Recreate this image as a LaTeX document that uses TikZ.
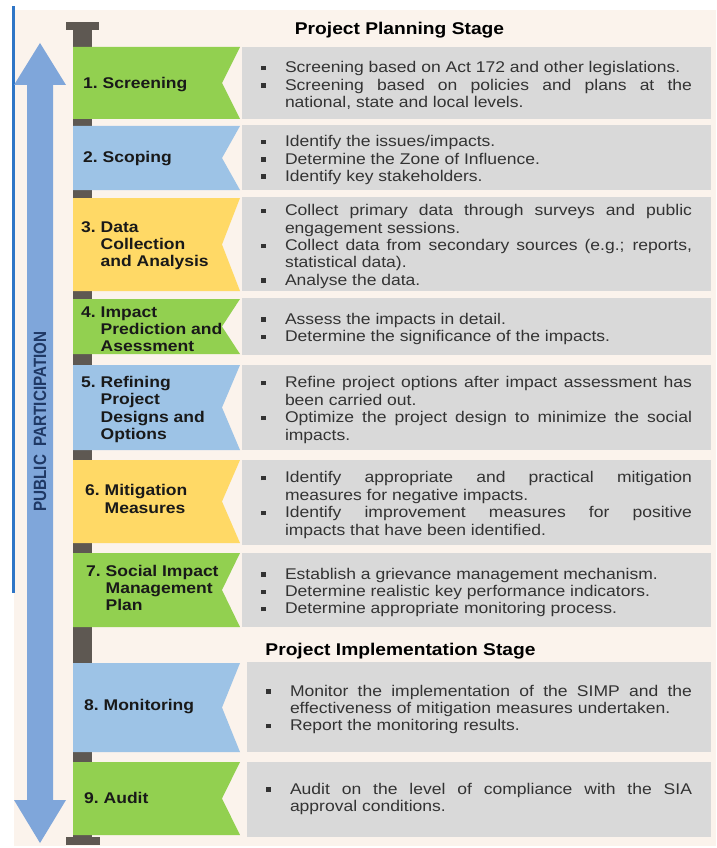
\documentclass[tikz,border=0pt]{standalone}
\usepackage{fontspec}
\usepackage{graphicx}
\setmainfont[FakeStretch=1.13]{Liberation Sans}
\newfontfamily\plainfont{Liberation Sans}
\usepackage{tikz}

\definecolor{cream}{HTML}{FBF3EC}
\definecolor{boxgray}{HTML}{D9D9D9}
\definecolor{stagegreen}{HTML}{92D050}
\definecolor{stageblue}{HTML}{9DC3E6}
\definecolor{stageyellow}{HTML}{FFD966}
\definecolor{spine}{HTML}{5E5852}
\definecolor{arrowblue}{HTML}{7FA6DA}
\definecolor{edgeblue}{HTML}{2E75C6}
\definecolor{navy}{HTML}{1F3864}

\tolerance=9999
\hyphenpenalty=10000
\hbadness=10000

% justified block of bullet items
\newcommand{\items}[2]{\begin{minipage}{#1}\fontsize{15.5}{17.4}\selectfont
  \rightskip=0pt\leftskip=0pt\parfillskip=0pt plus 1fil\everypar{}\relax #2\end{minipage}}
% bullet item with hanging indent
\newcommand{\itm}{\par\noindent\hangindent=24pt\hangafter=1\makebox[24pt][l]{\rule[2.5pt]{4.5pt}{4.5pt}}}
% stage label: number, then lines
\newcommand{\stp}[2]{\begin{tabular}{@{}l@{\ }l@{}}#1 & #2\end{tabular}}
% flag shape with a notch on the right
\newcommand{\banner}[3]{\fill[#3] (73,#1) -- (240,#1) -- (222,{(#1+#2)/2}) -- (240,#2) -- (73,#2) -- cycle;}

\begin{document}
\begin{tikzpicture}[x=1pt,y=-1pt,
  infobox/.style={fill=boxgray, text=black!80, minimum width=469pt, inner xsep=0pt, inner ysep=0pt},
  lowbox/.style={infobox, minimum width=464pt},
  stagelabel/.style={anchor=west, inner sep=0pt, yshift=-2pt, text=black!90, font=\bfseries\fontsize{15.5}{17.3}\selectfont},
  stagehead/.style={anchor=base, inner sep=0pt, font=\bfseries\fontsize{17}{20}\selectfont}]
\useasboundingbox (0,0) rectangle (716,848);
\fill[white] (0,0) rectangle (716,848);
\fill[cream] (14,10) rectangle (716,846);
\fill[edgeblue] (11.5,6) rectangle (14.5,593);

% public participation arrow
\fill[arrowblue] (40,43) -- (66,85) -- (53,85) -- (53,800) -- (66,800) -- (40,843) -- (14,800) -- (27,800) -- (27,85) -- (14,85) -- cycle;
\node[rotate=90, text=navy, font=\plainfont\bfseries\fontsize{15.2}{16}\selectfont] (pp) at (40,421.5) {\scalebox{1}[1.17]{PUBLIC\ \ PARTICIPATION}};

% spine
\fill[spine] (73,30) rectangle (92,837);
\fill[spine] (66,22) rectangle (99,30);
\fill[spine] (66,837) rectangle (100,845);

\node[stagehead] (plan) at (399.5,35) {Project Planning Stage};
\node[stagehead] (impl) at (400.5,655) {Project Implementation Stage};

\banner{47}{119}{stagegreen}
\banner{126}{190}{stageblue}
\banner{198}{291}{stageyellow}
\banner{299}{354}{stagegreen}
\banner{365}{450}{stageblue}
\banner{460}{543}{stageyellow}
\banner{553}{627}{stagegreen}
\banner{663}{752}{stageblue}
\banner{762}{835}{stagegreen}

\node[stagelabel] (s1) at (83,83) {\stp{1.}{Screening}};
\node[stagelabel] (s2) at (83,157) {\stp{2.}{Scoping}};
\node[stagelabel] (s3) at (81,244) {\stp{3.}{Data\\ & Collection\\ & and Analysis}};
\node[stagelabel] (s4) at (81,329) {\stp{4.}{Impact\\ & Prediction and\\ & Asessment}};
\node[stagelabel] (s5) at (81,408) {\stp{5.}{Refining\\ & Project\\ & Designs and\\ & Options}};
\node[stagelabel] (s6) at (85,499) {\stp{6.}{Mitigation\\ & Measures}};
\node[stagelabel] (s7) at (86,588) {\stp{7.}{Social Impact\\ & Management\\ & Plan}};
\node[stagelabel] (s8) at (84,705) {\stp{8.}{Monitoring}};
\node[stagelabel] (s9) at (84,798) {\stp{9.}{Audit}};

% gray boxes, text a little below the middle
\fill[boxgray] (242,47) rectangle (711,119);
\fill[boxgray] (242,125) rectangle (711,190);
\fill[boxgray] (242,197) rectangle (711,291);
\fill[boxgray] (242,298) rectangle (711,355);
\fill[boxgray] (242,365) rectangle (711,450);
\fill[boxgray] (242,460) rectangle (711,545);
\fill[boxgray] (242,553) rectangle (711,627);
\fill[boxgray] (247,662) rectangle (711,752);
\fill[boxgray] (247,762) rectangle (711,837);

\node[infobox] (d1) at (476.5,85.5) {\items{431pt}{
\itm Screening based on Act 172 and other legislations.
\itm Screening based on policies and plans at the \linebreak national, state and local levels.}};
\node[infobox] (d2) at (476.5,160) {\items{431pt}{
\itm Identify the issues/impacts.
\itm Determine the Zone of Influence.
\itm Identify key stakeholders.}};
\node[infobox] (d3) at (476.5,246.5) {\items{431pt}{
\itm Collect primary data through surveys and public \linebreak engagement sessions.
\itm Collect data from secondary sources (e.g.; reports, \linebreak statistical data).
\itm Analyse the data.}};
\node[infobox] (d4) at (476.5,329) {\items{431pt}{
\itm Assess the impacts in detail.
\itm Determine the significance of the impacts.}};
\node[infobox] (d5) at (476.5,410) {\items{431pt}{
\itm Refine project options after impact assessment has \linebreak been carried out.
\itm Optimize the project design to minimize the social \linebreak impacts.}};
\node[infobox] (d6) at (476.5,505) {\items{431pt}{
\itm Identify appropriate and practical mitigation \linebreak measures for negative impacts.
\itm Identify improvement measures for positive \linebreak impacts that have been identified.}};
\node[infobox] (d7) at (476.5,592.5) {\items{431pt}{
\itm Establish a grievance management mechanism.
\itm Determine realistic key performance indicators.
\itm Determine appropriate monitoring process.}};
\node[lowbox] (d8) at (479,709.5) {\items{426pt}{
\itm Monitor the implementation of the SIMP and the \linebreak effectiveness of mitigation measures undertaken.
\itm Report the monitoring results.}};
\node[lowbox] (d9) at (479,799) {\items{426pt}{
\itm Audit on the level of compliance with the SIA \linebreak approval conditions.}};
\end{tikzpicture}
\end{document}
